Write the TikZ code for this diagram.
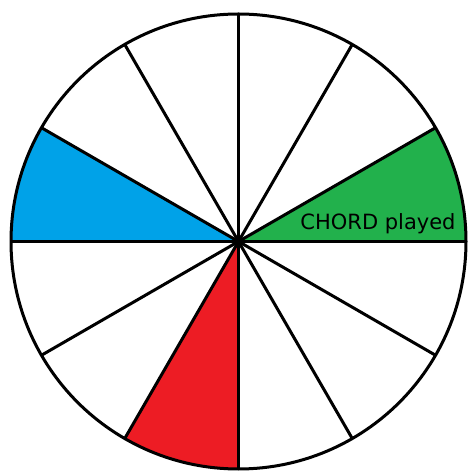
\documentclass[tikz,border=0pt]{standalone}
\usepackage{fontspec}
\usetikzlibrary{calc}
\newfontfamily\labelfont{DejaVu Sans}
\definecolor{pgreen}{HTML}{22B14C}
\definecolor{pblue}{HTML}{00A2E8}
\definecolor{pred}{HTML}{ED1C24}
\begin{document}
\begin{tikzpicture}[x=1pt,y=1pt,
  spoke/.style={line width=3pt,black},
  rim/.style={line width=3pt,black},
  lbl/.style={font=\labelfont\fontsize{21}{24}\selectfont,inner sep=0pt}]
\useasboundingbox (0,0) rectangle (469,471);
\def\R{227.5}
\coordinate (c) at (238.5,229.5);
\foreach \a in {0,30,...,330}{
  \coordinate (p\a) at ($(c)+(\a:\R)$);
}
% sectors
\fill[pgreen] (c) -- (p0) arc (0:30:\R) -- cycle;
\fill[pblue] (c) -- (p150) arc (150:180:\R) -- cycle;
\fill[pred] (c) -- (p240) arc (240:270:\R) -- cycle;
% spokes
\foreach \a in {0,30,...,150}{
  \pgfmathtruncatemacro{\b}{\a+180}
  \draw[spoke] (p\a) -- (p\b);
}
\draw[rim] (c) circle (\R);
\node[lbl] (txt) at (378,247) {CHORD played};
\end{tikzpicture}
\end{document}
